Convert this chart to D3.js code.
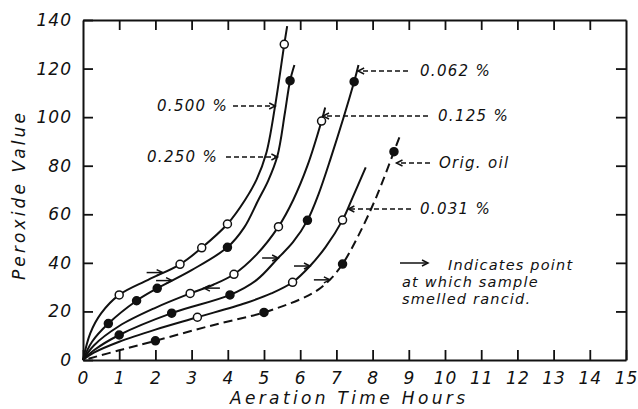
<!DOCTYPE html>
<html><head><meta charset="utf-8">
<script src="https://cdn.jsdelivr.net/npm/d3@7/dist/d3.min.js"></script>
<style>
body{margin:0;background:#fff}
text{font-family:"DejaVu Sans";font-style:italic;fill:#111}
</style>
</head><body>
<svg id="c" width="638" height="409"></svg>
<script>
// ---- data (hours, peroxide value) ----
const xTicks = [0,1,2,3,4,5,6,7,8,9,10,11,12,13,14,15];
const yTicks = [0,20,40,60,80,100,120,140];
const seriesNames = ["0.500 %","0.250 %","0.125 %","0.062 %","0.031 %","Orig. oil"];

const curve500 = [[0,0],[0.2,11],[0.5,19.2],[1.0,26.8],[1.8,33],[2.68,39.4],[3.28,46.2],[3.99,56],[4.48,66],[4.8,74.5],[5.06,85],[5.3,104],[5.56,130],[5.64,137.5]];
const curve250 = [[0,0],[0.25,7.5],[0.7,15],[1.48,24.4],[2.05,29.5],[3.0,37],[3.99,46.4],[4.45,54.5],[4.84,65.8],[5.12,74],[5.37,84],[5.58,102],[5.72,115],[5.84,121.5]];
const curve125 = [[0,0],[0.3,6],[1,14],[2,21.5],[2.96,27.4],[3.6,31],[4.17,35.3],[4.8,43.5],[5.4,54.9],[5.81,66],[6.2,80],[6.59,98.4],[6.69,104]];
const curve062 = [[0,0],[0.3,4],[1,10.3],[2.45,19.3],[4.06,26.8],[4.8,33],[5.39,42],[5.8,48.5],[6.2,57.5],[6.5,68],[6.82,82],[7.49,114.6],[7.61,121.5]];
const curve031 = [[0,0],[0.3,3],[1,7.5],[2,12.5],[3.16,17.6],[4.5,23.5],[5.2,27.4],[5.79,32],[6.27,38.7],[6.7,46.5],[7.17,57.6],[7.45,67],[7.81,79.3]];
const curveOrig = [[0.15,0.5],[1,4],[2,7.9],[3.5,14],[5,19.6],[6,25],[6.5,29],[6.85,33.5],[7.17,39.5],[7.6,51],[8.1,67],[8.59,85.8],[8.78,93.3]];

const pts500 = [[1.0,26.8],[2.68,39.4],[3.28,46.2],[3.99,56],[5.56,130]];
const pts250 = [[0.7,15],[1.48,24.4],[2.05,29.5],[3.99,46.4],[5.72,115]];
const pts125 = [[2.96,27.4],[4.17,35.3],[5.4,54.9],[6.59,98.4]];
const pts062 = [[1.0,10.3],[2.45,19.3],[4.06,26.8],[6.2,57.5],[7.49,114.6]];
const pts031 = [[3.16,17.6],[5.79,32],[7.17,57.6]];
const ptsOrig = [[2,7.9],[5,19.6],[7.17,39.5],[8.59,85.8]];

// rancid points: [hours, value, direction]
const rancid = [[2.2,36,1],[2.46,32.7,1],[3.34,29.6,-1],[5.39,42,1],[6.27,38.7,1],[6.82,33,1]];
// label leader tips (hours, value)
const labelTips = [[5.31,105],[5.37,83.5],[6.63,100],[7.6,119.5],[7.33,62.5],[8.66,81.5]];

const legendLines = ["Indicates point","at which sample","smelled rancid."];

// ---- layout ----
const svg = d3.select("#c");
const L=83, R=626, T=20, B=360;
const x = d3.scaleLinear().domain([0,15]).range([L,R]);
const y = d3.scaleLinear().domain([0,140]).range([B,T]);

function styleAxis(g){
  g.select(".domain").attr("stroke","#111").attr("stroke-width",2);
  g.selectAll(".tick line").attr("stroke","#111").attr("stroke-width",1.8);
  g.selectAll("text").attr("font-size",17).attr("font-family","DejaVu Sans").attr("font-style","italic").attr("fill","#111").attr("letter-spacing",1);
}
svg.append("g").attr("transform",`translate(0,${B})`)
  .call(d3.axisBottom(x).tickValues(xTicks).tickSize(-10).tickSizeOuter(0).tickPadding(12).tickFormat(d3.format("d")))
  .call(styleAxis);
svg.append("g").attr("transform",`translate(${L},0)`)
  .call(d3.axisLeft(y).tickValues(yTicks).tickSize(-10).tickSizeOuter(0).tickPadding(11).tickFormat(d3.format("d")))
  .call(styleAxis);
svg.append("g").attr("transform",`translate(0,${T})`)
  .call(d3.axisTop(x).tickValues(xTicks.slice(1,-1)).tickSize(-10).tickSizeOuter(0).tickFormat(""))
  .call(styleAxis);
svg.append("g").attr("transform",`translate(${R},0)`)
  .call(d3.axisRight(y).tickValues(yTicks.slice(1,-1)).tickSize(-10).tickSizeOuter(0).tickFormat(""))
  .call(styleAxis);

// axis titles
svg.append("text").attr("x",230).attr("y",404).attr("font-size",17)
  .attr("textLength",235).attr("lengthAdjust","spacing").text("Aeration  Time  Hours");
svg.append("text").attr("transform","translate(25,280) rotate(-90)").attr("font-size",17)
  .attr("textLength",167).attr("lengthAdjust","spacing").text("Peroxide  Value");

// curves
const line = d3.line().x(d=>x(d[0])).y(d=>y(d[1])).curve(d3.curveCatmullRom.alpha(0.5));
const curves = [curve500,curve250,curve125,curve062,curve031,curveOrig];
curves.forEach((c,i)=>{
  svg.append("path").attr("d",line(c)).attr("fill","none").attr("stroke","#111")
    .attr("stroke-width",2).attr("stroke-dasharray",i===5?"9,5":null);
});

// markers
const markers = [[pts500,false],[pts250,true],[pts125,false],[pts062,true],[pts031,false],[ptsOrig,true]];
markers.forEach(([p,filled])=>{
  svg.selectAll(null).data(p).join("circle")
    .attr("cx",d=>x(d[0])).attr("cy",d=>y(d[1])).attr("r",4)
    .attr("fill",filled?"#111":"#fff").attr("stroke","#111").attr("stroke-width",1.5);
});

// arrow helper
function arrow(x1,y1,x2,y2,dash){
  svg.append("line").attr("x1",x1).attr("y1",y1).attr("x2",x2).attr("y2",y2)
    .attr("stroke","#111").attr("stroke-width",1.5).attr("stroke-dasharray",dash||null);
  const dir = Math.sign(x2-x1);
  svg.append("path").attr("d",`M${x2-dir*6},${y2-3}L${x2},${y2}L${x2-dir*6},${y2+3}`)
    .attr("fill","none").attr("stroke","#111").attr("stroke-width",1.5);
}

// rancid arrows
rancid.forEach(([h,v,dir])=>{
  const tx=x(h), ty=y(v);
  arrow(tx-dir*16,ty,tx,ty);
});

// series labels with dashed leaders
const labelPos = [ // text x, text center y, leader start x
  [157,106,233],[147,157,226],[438,116,428],[420,71,408],[420,209,411],[439,163,430]
];
seriesNames.forEach((n,i)=>{
  const [tx,ty,lx]=labelPos[i];
  svg.append("text").attr("x",tx).attr("y",ty+5).attr("font-size",15)
    .attr("letter-spacing",1.3).text(n);
  const [h,v]=labelTips[i];
  arrow(lx,ty,x(h),ty,"5,3");
});

// legend
arrow(400,263,428,263);
legendLines.forEach((t,i)=>{
  svg.append("text").attr("x",i===0?448:402).attr("y",270+i*17).attr("font-size",14.5)
    .attr("letter-spacing",1.2).text(t);
});
</script>
</body></html>
